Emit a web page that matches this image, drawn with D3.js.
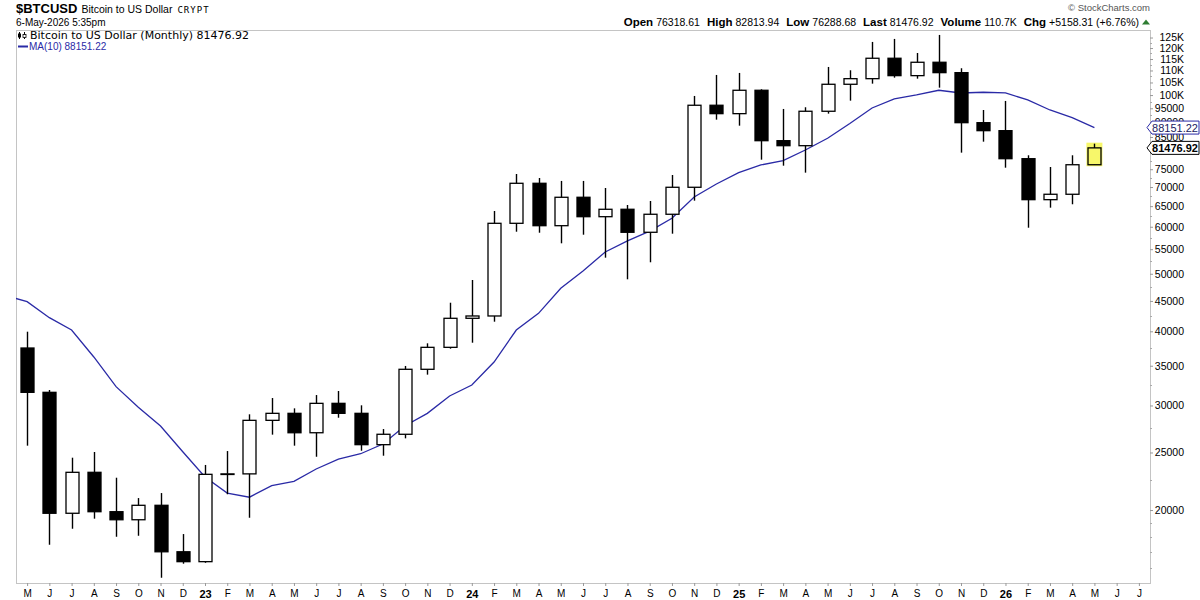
<!DOCTYPE html>
<html>
<head>
<meta charset="utf-8">
<script src="https://cdnjs.cloudflare.com/ajax/libs/d3/7.8.5/d3.min.js"></script>
<style>
  body { margin: 0; background: #fff; }
  svg { display: block; }
  text { font-family: "Liberation Sans", Arial, sans-serif; }
</style>
</head>
<body>
<div id="vis"></div>
<script>
// x axis labels, one per month, May 2022 .. Jul 2026
var monthLabels = ["M","J","J","A","S","O","N","D",
  "23","F","M","A","M","J","J","A","S","O","N","D",
  "24","F","M","A","M","J","J","A","S","O","N","D",
  "25","F","M","A","M","J","J","A","S","O","N","D",
  "26","F","M","A","M","J","J"];

// monthly candles, May 2022 .. May 2026
var opens = [37490, 31570, 19750, 23150, 19870, 19260, 20370, 17010,
  16370, 22970, 23010, 28320, 29100, 26990, 30250, 29100, 25770, 26830, 34520, 37590,
  42070, 42450, 60810, 71020, 60250, 67270, 62390, 64210, 58730, 62980, 69930, 96120,
  93040, 101870, 83780, 82170, 93910, 104270, 106560, 115340, 107820, 113560, 109080, 89840,
  87100, 78130, 66650, 68060, 76318.61];
var highs = [39940, 31860, 24500, 25050, 22670, 20950, 21360, 18220,
  23820, 25140, 28990, 30880, 29670, 31240, 31730, 30020, 27380, 34970, 38180, 44690,
  48810, 63780, 73630, 72500, 71670, 71670, 69740, 65290, 66310, 73340, 99650, 108110,
  108960, 102270, 94750, 95380, 111510, 110090, 122880, 124320, 117730, 126260, 110960, 94380,
  97740, 79170, 75660, 79170, 82813.94];
var lows = [25670, 17480, 18600, 19340, 18030, 18100, 15380, 16240,
  16300, 21260, 19410, 26790, 25670, 24590, 28610, 25170, 24690, 26410, 33810, 37390,
  38270, 41520, 58860, 58630, 56270, 58180, 53220, 48940, 52280, 58410, 66390, 90900,
  88800, 77830, 76040, 74010, 93040, 97850, 104520, 106980, 106560, 102910, 79980, 83460,
  75450, 59780, 64610, 65470, 76288.68];
var closes = [31570, 19750, 23150, 19870, 19260, 20370, 17010, 16370,
  22970, 23010, 28320, 29100, 26990, 30250, 29100, 25770, 26830, 34520, 37590, 42070,
  42450, 60810, 71020, 60250, 67270, 62390, 64210, 58730, 62980, 69930, 96120, 93040,
  101870, 83780, 82170, 93910, 104270, 106560, 115340, 107820, 113560, 109080, 89840, 87100,
  78130, 66650, 68060, 76318.61, 81476.92];

// MA(10) of the close, Apr 2022 .. May 2026 (first point sits off the left edge)
var ma10 = [45990, 44870, 42170, 40200, 36210, 32270, 29790, 27700, 25070,
  22730, 21360, 21020, 21980, 22350, 23450, 24370, 24880, 25840, 27740, 29100, 31120,
  32480, 35510, 40200, 42890, 47260, 50540, 54410, 56820, 58980, 62010, 67350, 70830,
  74010, 76250, 77530, 80810, 84570, 89560, 95120, 98490, 100030, 101870, 100810, 101090,
  100810, 98120, 94380, 91610, 88151.22];

// y axis ticks (80000 sits under the price tag, so it only gets a tick mark)
var majorTicks = [20000, 25000, 30000, 35000, 40000, 45000, 50000, 55000, 60000, 65000,
  70000, 75000, 85000, 90000, 95000, 100000, 105000, 110000, 115000, 120000, 125000];
var minorTicks = [16000, 17000, 18000, 19000, 22500, 27500, 32500, 37500, 42500, 47500,
  52500, 57500, 62500, 67500, 72500, 77500, 80000, 82500, 87500, 92500, 97500, 102500, 107500,
  112500, 117500, 122500];

// header values
var lastValue = 81476.92;
var maValue = 88151.22;
var quote = [["Open", "76318.61"], ["High", "82813.94"], ["Low", "76288.68"],
  ["Last", "81476.92"], ["Volume", "110.7K"], ["Chg", "+5158.31 (+6.76%)"]];

//Width and height
var w = 1200;
var h = 600;
var plotL = 16, plotR = 1150, plotT = 30, plotB = 583;

var svg = d3.select("#vis")
  .append("svg")
  .attr("width", w)
  .attr("height", h);

var x = d3.scaleLinear()
  .domain([-0.5, monthLabels.length - 0.5])
  .range([plotL, plotR]);

var y = d3.scaleLog()
  .domain([15070, 128700])
  .range([plotB, plotT]);

var bodyW = 13;

svg.append("clipPath")
  .attr("id", "plotclip")
  .append("rect")
  .attr("x", plotL)
  .attr("y", plotT)
  .attr("width", plotR - plotL)
  .attr("height", plotB - plotT);

//Title block
var title = svg.append("text")
  .attr("x", 16)
  .attr("y", 13);
title.append("tspan")
  .attr("font-size", "13px")
  .attr("font-weight", "bold")
  .text("$BTCUSD");
title.append("tspan")
  .attr("font-size", "10.5px")
  .attr("dx", 4)
  .text("Bitcoin to US Dollar");
title.append("tspan")
  .attr("font-size", "9px")
  .attr("dx", 5)
  .attr("letter-spacing", "1px")
  .style("font-family", "'DejaVu Sans Mono', monospace")
  .text("CRYPT");

svg.append("text")
  .attr("x", 16)
  .attr("y", 25.5)
  .attr("font-size", "10px")
  .text("6-May-2026 5:35pm");

svg.append("text")
  .attr("x", 1150)
  .attr("y", 11)
  .attr("text-anchor", "end")
  .attr("font-size", "9.5px")
  .attr("fill", "#555")
  .text("\u00a9 StockCharts.com");

//Quote line, right aligned
var q = svg.append("text")
  .attr("x", 1139)
  .attr("y", 25.5)
  .attr("text-anchor", "end")
  .attr("font-size", "10.5px");
quote.forEach(function(d, i) {
  q.append("tspan")
    .attr("font-weight", "bold")
    .attr("font-size", "11.5px")
    .attr("dx", i == 0 ? 0 : 7)
    .text(d[0]);
  q.append("tspan")
    .attr("dx", 3)
    .text(d[1]);
});
svg.append("path")
  .attr("d", "M1142,24.5 L1146,19.5 L1150,24.5 Z")
  .attr("fill", "#2e7d32");

//Plot frame
svg.append("rect")
  .attr("x", plotL + 0.5)
  .attr("y", plotT + 0.5)
  .attr("width", plotR - plotL)
  .attr("height", plotB - plotT)
  .attr("fill", "none")
  .attr("stroke", "#c4c4c4");

//Legend
var leg = svg.append("g");
leg.append("line").attr("x1", 19.5).attr("x2", 19.5).attr("y1", 32).attr("y2", 39).attr("stroke", "#000");
leg.append("rect").attr("x", 18).attr("y", 33.5).attr("width", 3).attr("height", 4).attr("fill", "#000");
leg.append("line").attr("x1", 24.5).attr("x2", 24.5).attr("y1", 32).attr("y2", 39).attr("stroke", "#000");
leg.append("rect").attr("x", 23).attr("y", 34.5).attr("width", 3).attr("height", 3).attr("fill", "#fff").attr("stroke", "#000").attr("stroke-width", 0.8);
leg.append("text")
  .attr("x", 30)
  .attr("y", 39)
  .attr("font-size", "11px")
  .style("font-family", "'DejaVu Sans', Verdana, sans-serif")
  .text("Bitcoin to US Dollar (Monthly) " + lastValue.toFixed(2));
leg.append("line")
  .attr("x1", 18).attr("x2", 28)
  .attr("y1", 46.5).attr("y2", 46.5)
  .attr("stroke", "#2a2aa6")
  .attr("stroke-width", 2);
leg.append("text")
  .attr("x", 29)
  .attr("y", 50)
  .attr("font-size", "10px")
  .attr("fill", "#2a2aa6")
  .text("MA(10) " + maValue.toFixed(2));

//Y axis on the right
var fmt = function(d) { return d >= 100000 ? (d / 1000) + "K" : d; };
var yAxis = svg.append("g")
  .attr("transform", "translate(" + plotR + ",0)")
  .call(d3.axisRight(y).tickValues(majorTicks).tickFormat(fmt).tickSize(3).tickSizeOuter(0));
yAxis.select(".domain").remove();
yAxis.selectAll(".tick line").attr("stroke", "#999");
yAxis.selectAll(".tick text")
  .attr("x", 34)
  .attr("text-anchor", "end")
  .attr("font-size", "10.5px")
  .attr("fill", "#000")
  .style("font-family", "'Liberation Sans', Arial, sans-serif");

svg.append("g")
  .selectAll("line")
  .data(minorTicks)
  .enter()
  .append("line")
  .attr("x1", plotR)
  .attr("x2", plotR + 2)
  .attr("y1", function(d) { return Math.round(y(d)) + 0.5; })
  .attr("y2", function(d) { return Math.round(y(d)) + 0.5; })
  .attr("stroke", "#aaa");

//X axis
var xAxis = svg.append("g")
  .attr("transform", "translate(0," + plotB + ")")
  .call(d3.axisBottom(x).tickValues(d3.range(monthLabels.length))
    .tickFormat(function(i) { return monthLabels[i]; })
    .tickSize(3).tickSizeOuter(0));
xAxis.select(".domain").remove();
xAxis.selectAll(".tick line").attr("stroke", "#999");
xAxis.selectAll(".tick text")
  .attr("y", 7)
  .attr("fill", "#000")
  .attr("font-size", function(d) { return isNaN(+monthLabels[d]) ? "10px" : "11px"; })
  .attr("font-weight", function(d) { return isNaN(+monthLabels[d]) ? "normal" : "bold"; })
  .style("font-family", "'Liberation Sans', Arial, sans-serif");

//MA line
var maLine = d3.line()
  .x(function(d, i) { return x(i - 1); })
  .y(function(d) { return y(d); });

svg.append("path")
  .datum(ma10)
  .attr("clip-path", "url(#plotclip)")
  .attr("d", maLine)
  .attr("fill", "none")
  .attr("stroke", "#2a2aa6")
  .attr("stroke-width", 1.3);

//Candles
var lastIdx = opens.length - 1;

// yellow highlight behind the current month
svg.append("rect")
  .attr("x", x(lastIdx) - 8)
  .attr("y", y(highs[lastIdx]) - 1)
  .attr("width", 16)
  .attr("height", y(opens[lastIdx]) - y(highs[lastIdx]) + 2.5)
  .attr("fill", "#f7f76a");

var candles = svg.append("g")
  .selectAll("g")
  .data(opens)
  .enter()
  .append("g");

candles.append("line")
  .attr("x1", function(d, i) { return Math.round(x(i)) + 0.5; })
  .attr("x2", function(d, i) { return Math.round(x(i)) + 0.5; })
  .attr("y1", function(d, i) { return y(highs[i]); })
  .attr("y2", function(d, i) { return y(lows[i]); })
  .attr("stroke", "#000")
  .attr("stroke-width", 1.4);

candles.append("rect")
  .attr("x", function(d, i) { return Math.round(x(i)) + 0.5 - bodyW / 2; })
  .attr("y", function(d, i) { return y(Math.max(opens[i], closes[i])); })
  .attr("width", bodyW)
  .attr("height", function(d, i) {
    return Math.max(0.6, Math.abs(y(opens[i]) - y(closes[i])));
  })
  .attr("fill", function(d, i) {
    if (i == lastIdx) return "#f7f76a";
    return closes[i] < opens[i] ? "#000" : "#fff";
  })
  .attr("stroke", "#000")
  .attr("stroke-width", 1.3);

//Value tags on the axis
function tag(v, color, bold) {
  var ty = y(v);
  var g = svg.append("g");
  g.append("path")
    .attr("d", "M" + (plotR - 3) + "," + ty + " L" + (plotR + 2) + "," + (ty - 6.5) +
      " L1199," + (ty - 6.5) + " L1199," + (ty + 6.5) + " L" + (plotR + 2) + "," + (ty + 6.5) + " Z")
    .attr("fill", "#fff")
    .attr("stroke", color)
    .attr("stroke-width", 1);
  g.append("text")
    .attr("x", 1175)
    .attr("y", ty + 4)
    .attr("text-anchor", "middle")
    .attr("font-size", "11px")
    .attr("font-weight", bold ? "bold" : "normal")
    .attr("fill", bold ? "#000" : "#1a1a60")
    .text(v.toFixed(2));
}
tag(maValue, "#2a2aa6", false);
tag(lastValue, "#000", true);
</script>
</body>
</html>
